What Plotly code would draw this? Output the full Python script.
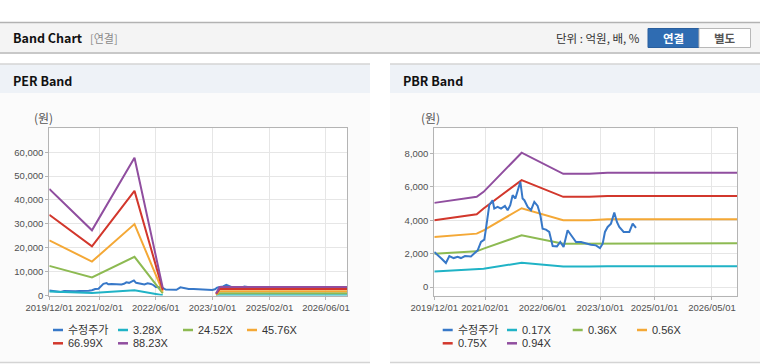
import plotly.graph_objects as go

W, H = 760, 364

# ---------------- data ----------------
price_dates = ["2019-12-01", "2020-01-04", "2020-02-01", "2020-03-08", "2020-04-06", "2020-05-12",
               "2020-06-15", "2020-07-13", "2020-08-16", "2020-10-05", "2020-11-03", "2020-12-01",
               "2020-12-29", "2021-01-26", "2021-02-09", "2021-02-23", "2021-03-09", "2021-04-06",
               "2021-04-20", "2021-05-18", "2021-06-16", "2021-07-19", "2021-08-11", "2021-09-02",
               "2021-09-22", "2021-10-15", "2021-11-03", "2021-11-26", "2021-12-15", "2021-12-30",
               "2022-01-27", "2022-02-24", "2022-03-24", "2022-04-21", "2022-05-14", "2022-06-02",
               "2022-06-30", "2022-07-28", "2022-08-26", "2022-10-01", "2022-10-29", "2022-11-26",
               "2022-12-30", "2023-01-27", "2023-03-11", "2023-04-22", "2023-06-03", "2023-07-15",
               "2023-08-26", "2023-09-29", "2023-10-22", "2023-11-10", "2023-12-03", "2023-12-31",
               "2024-01-28", "2024-02-19", "2024-03-10", "2024-04-16", "2024-06-03", "2024-07-01",
               "2024-07-29"]
price_vals = [2100, 1900, 1700, 1440, 1860, 1740,
              1820, 1740, 1860, 1840, 2000, 2200,
              2700, 2840, 3500, 4200, 4900, 5200,
              4700, 4800, 4700, 4860, 4600, 4900,
              5500, 5300, 5700, 6300, 5300, 5200,
              4800, 4600, 5100, 4860, 4300, 3500,
              3440, 3300, 2460, 2440, 2700, 2400,
              3400, 3100, 2700, 2700, 2600, 2540,
              2500, 2340, 2600, 3300, 3600, 3800,
              4460, 3900, 3600, 3300, 3300, 3800,
              3540]

per_dates = ["2019-12-01", "2020-12-01", "2021-12-01", "2022-08-01", "2023-01-01",
             "2023-11-01", "2023-12-01", "2026-12-01"]
per_names = ["3.28X", "24.52X", "45.76X", "66.99X", "88.23X"]
per_b1 = [1700, 1000, 2200, 110, None, 30, 130, 130]
per_b2 = [12400, 7600, 16200, 860, None, 250, 980, 980]
per_b3 = [23100, 14200, 29900, 1600, None, 460, 1830, 1830]
per_b4 = [33800, 20600, 43800, 2350, None, 670, 2680, 2680]
per_b5 = [44600, 27300, 57700, 3090, None, 880, 3530, 3530]

pbr_dates = ["2019-12-01", "2020-11-23", "2021-01-20", "2021-12-07", "2022-11-23",
             "2023-07-01", "2023-12-01", "2026-12-01"]
pbr_names = ["0.17X", "0.36X", "0.56X", "0.75X", "0.94X"]
pbr_b1 = [940, 1040, 1100, 1460, 1240, 1240, 1250, 1250]
pbr_b2 = [2000, 2140, 2300, 3100, 2600, 2600, 2630, 2630]
pbr_b3 = [3000, 3200, 3400, 4720, 4000, 4000, 4060, 4060]
pbr_b4 = [4000, 4360, 4700, 6400, 5400, 5400, 5450, 5450]
pbr_b5 = [5040, 5400, 5700, 8040, 6780, 6780, 6840, 6840]

per_xtick_vals = ["2019-12-01", "2021-02-01", "2022-06-01", "2023-10-01", "2025-02-01", "2026-06-01"]
per_xtick_text = ["2019/12/01", "2021/02/01", "2022/06/01", "2023/10/01", "2025/02/01", "2026/06/01"]
pbr_xtick_vals = ["2019-12-01", "2021-02-01", "2022-06-01", "2023-10-01", "2025-01-01", "2026-05-01"]
pbr_xtick_text = ["2019/12/01", "2021/02/01", "2022/06/01", "2023/10/01", "2025/01/01", "2026/05/01"]
per_ytick_vals = [0, 10000, 20000, 30000, 40000, 50000, 60000]
pbr_ytick_vals = [0, 2000, 4000, 6000, 8000]
x_range = ["2019-12-01", "2026-12-01"]

price_name = "수정주가"
band_colors = ["#20b3c6", "#8dba52", "#f4a836", "#d2372c", "#904e9f"]
price_color = "#3778c8"

# ---------------- helpers (layout only) ----------------
def fx(p):
    return p / W

def fy(p):
    return 1 - p / H

FONT = "Liberation Sans, Arial, Noto Sans CJK KR, sans-serif"
KFONT = "Noto Sans CJK KR, Liberation Sans, sans-serif"

fig = go.Figure()

# PER chart: price first (beneath bands)
fig.add_trace(go.Scatter(x=price_dates, y=price_vals, mode="lines", name=price_name,
                         line=dict(color=price_color, width=2), xaxis="x", yaxis="y",
                         showlegend=False))
per_bands = [per_b1, per_b2, per_b3, per_b4, per_b5]
for i, (nm, vals) in enumerate(zip(per_names, per_bands)):
    fig.add_trace(go.Scatter(x=per_dates, y=vals, mode="lines", name=nm,
                             line=dict(color=band_colors[i], width=2), connectgaps=False,
                             xaxis="x", yaxis="y", showlegend=False))

# PBR chart
pbr_bands = [pbr_b1, pbr_b2, pbr_b3, pbr_b4, pbr_b5]
for i, (nm, vals) in enumerate(zip(pbr_names, pbr_bands)):
    fig.add_trace(go.Scatter(x=pbr_dates, y=vals, mode="lines", name=nm,
                             line=dict(color=band_colors[i], width=2),
                             xaxis="x2", yaxis="y2", showlegend=False))
fig.add_trace(go.Scatter(x=price_dates, y=price_vals, mode="lines", name=price_name,
                         line=dict(color=price_color, width=2), xaxis="x2", yaxis="y2",
                         showlegend=False))

axis_common = dict(showgrid=True, gridcolor="#e6e6e6", gridwidth=1,
                   showline=True, linecolor="#b4b4b4", linewidth=1, mirror=True,
                   ticks="outside", ticklen=3, tickcolor="#b4b4b4",
                   tickfont=dict(family=FONT, size=9.5, color="#505050"),
                   zeroline=False, fixedrange=True, automargin=False)

ydom = [fy(295.5), fy(128.3)]
fig.update_layout(
    xaxis=dict(domain=[fx(49.3), fx(347.3)], type="date", range=x_range, tickangle=0,
               tickvals=per_xtick_vals, ticktext=per_xtick_text, anchor="y", **axis_common),
    yaxis=dict(domain=ydom, range=[0, 70000], tickvals=per_ytick_vals, tickformat=",",
               anchor="x", **axis_common),
    xaxis2=dict(domain=[fx(434.3), fx(737.3)], type="date", range=x_range, tickangle=0,
                tickvals=pbr_xtick_vals, ticktext=pbr_xtick_text, anchor="y2", **axis_common),
    yaxis2=dict(domain=ydom, range=[-500, 9500], tickvals=pbr_ytick_vals, tickformat=",",
                anchor="x2", **axis_common),
)

shapes = []
# header bar
shapes.append(dict(type="rect", xref="paper", yref="paper", x0=0, x1=1, y0=fy(53), y1=fy(22.5),
                   fillcolor="#f4f4f4", line=dict(width=0), layer="below"))
shapes.append(dict(type="line", xref="paper", yref="paper", x0=0, x1=1, y0=fy(22.5), y1=fy(22.5),
                   line=dict(color="#b2b2b2", width=1.5), layer="below"))
shapes.append(dict(type="line", xref="paper", yref="paper", x0=0, x1=1, y0=fy(53), y1=fy(53),
                   line=dict(color="#c8c8c8", width=2), layer="below"))
# buttons
shapes.append(dict(type="rect", xref="paper", yref="paper", x0=fx(648), x1=fx(699), y0=fy(47.5), y1=fy(28.5),
                   fillcolor="#2f6cb2", line=dict(color="#2a5f9e", width=1), layer="below"))
shapes.append(dict(type="rect", xref="paper", yref="paper", x0=fx(699), x1=fx(750.5), y0=fy(47.5), y1=fy(28.5),
                   fillcolor="#ffffff", line=dict(color="#b8b8b8", width=1), layer="below"))
# panels
for (a, b) in [(0, 370), (390, 760)]:
    shapes.append(dict(type="rect", xref="paper", yref="paper", x0=fx(a), x1=fx(b), y0=fy(362), y1=fy(93),
                       fillcolor="#fbfbfb", line=dict(width=0), layer="below"))
    shapes.append(dict(type="rect", xref="paper", yref="paper", x0=fx(a), x1=fx(b), y0=fy(93), y1=fy(64),
                       fillcolor="#eef2f7", line=dict(width=0), layer="below"))
    shapes.append(dict(type="line", xref="paper", yref="paper", x0=fx(a), x1=fx(b), y0=fy(64), y1=fy(64),
                       line=dict(color="#d4d4d4", width=1.5), layer="below"))
    shapes.append(dict(type="line", xref="paper", yref="paper", x0=fx(a), x1=fx(b), y0=fy(362.5), y1=fy(362.5),
                       line=dict(color="#d4d4d4", width=1.5), layer="below"))
# white plot areas
for ax in ["x", "x2"]:
    yax = "y" if ax == "x" else "y2"
    shapes.append(dict(type="rect", xref=ax + " domain", yref=yax + " domain", x0=0, x1=1, y0=0, y1=1,
                       fillcolor="#ffffff", line=dict(width=0), layer="below"))

ann = []
def txt(x, y, s, size=12, color="#111111", bold=False, xanchor="left", family=KFONT):
    ann.append(dict(xref="paper", yref="paper", x=fx(x), y=fy(y), text=("<b>%s</b>" % s) if bold else s,
                    showarrow=False, xanchor=xanchor, yanchor="middle",
                    font=dict(family=family, size=size, color=color)))

# legends (swatch + label), built from the series names and colours
legend_cols_per = [53, 118, 183, 247]
legend_cols_pbr = [442.7, 507, 572.7, 637]
legend_rows = [330, 343.3]
for names, cols in [([price_name] + per_names, legend_cols_per), ([price_name] + pbr_names, legend_cols_pbr)]:
    cols_all = [price_color] + band_colors
    for k, (nm, col) in enumerate(zip(names, cols_all)):
        r, c = divmod(k, 4)
        x0 = cols[c]
        y0 = legend_rows[r]
        shapes.append(dict(type="line", xref="paper", yref="paper", x0=fx(x0), x1=fx(x0 + 10),
                           y0=fy(y0), y1=fy(y0), line=dict(color=col, width=2.5)))
        txt(x0 + 13, y0, nm, size=11, color="#333333", family=FONT)

fig.update_layout(shapes=shapes)

txt(11, 38, "Band Chart", size=12.5, bold=True, color="#111111")
txt(88, 38.5, "[연결]", size=11, color="#8a8a8a")
txt(642, 38.5, "단위 : 억원, 배, %", size=11.5, color="#333333", xanchor="right")
txt(673.5, 38, "연결", size=11.5, color="#ffffff", bold=True, xanchor="center")
txt(725, 38, "별도", size=11.5, color="#555555", bold=True, xanchor="center")
txt(11, 80, "PER Band", size=12.5, bold=True, color="#111111")
txt(401, 80, "PBR Band", size=12.5, bold=True, color="#111111")
txt(43.5, 118, "(원)", size=12, color="#555555", xanchor="center")
txt(430, 118, "(원)", size=12, color="#555555", xanchor="center")
fig.update_layout(annotations=ann)

fig.update_layout(width=W, height=H, autosize=False, margin=dict(l=0, r=0, t=0, b=0, pad=0),
                  paper_bgcolor="#ffffff", plot_bgcolor="#ffffff", showlegend=False,
                  font=dict(family=FONT))

fig.write_html("out.html", config={"displayModeBar": False},
               post_script="document.body.style.margin='0';document.body.style.overflow='hidden';")
